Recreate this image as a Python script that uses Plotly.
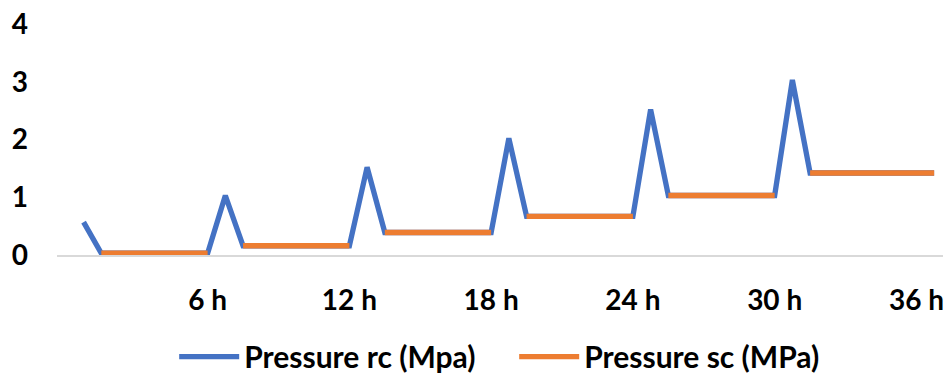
import plotly.graph_objects as go

# category positions (0 = blank leading category)
x_idx = list(range(50))
tick_pos = [8, 16, 24, 32, 40, 48]
tick_labels = ["6 h", "12 h", "18 h", "24 h", "30 h", "36 h"]

pressure_rc = [None, 0.57,
               0.03, 0.03, 0.03, 0.03, 0.03, 0.03, 0.03,
               1.03,
               0.16, 0.16, 0.16, 0.16, 0.16, 0.16, 0.16,
               1.52,
               0.39, 0.39, 0.39, 0.39, 0.39, 0.39, 0.39,
               2.02,
               0.67, 0.67, 0.67, 0.67, 0.67, 0.67, 0.67,
               2.52,
               1.03, 1.03, 1.03, 1.03, 1.03, 1.03, 1.03,
               3.03,
               1.42, 1.42, 1.42, 1.42, 1.42, 1.42, 1.42, 1.42]

pressure_sc = [None, None,
               0.03, 0.03, 0.03, 0.03, 0.03, 0.03, 0.03,
               None,
               0.16, 0.16, 0.16, 0.16, 0.16, 0.16, 0.16,
               None,
               0.39, 0.39, 0.39, 0.39, 0.39, 0.39, 0.39,
               None,
               0.67, 0.67, 0.67, 0.67, 0.67, 0.67, 0.67,
               None,
               1.03, 1.03, 1.03, 1.03, 1.03, 1.03, 1.03,
               None,
               1.42, 1.42, 1.42, 1.42, 1.42, 1.42, 1.42, 1.42]

FONT = "Lato"

fig = go.Figure()
fig.add_trace(go.Scatter(x=x_idx, y=pressure_rc, mode="lines",
                         name="Pressure rc (Mpa)",
                         line=dict(color="#4472C4", width=5.3),
                         connectgaps=False))
fig.add_trace(go.Scatter(x=x_idx, y=pressure_sc, mode="lines",
                         name="Pressure sc (MPa)",
                         line=dict(color="#ED7D31", width=5.3),
                         connectgaps=False))

fig.update_layout(
    width=948, height=373,
    margin=dict(l=57, r=5, t=23.5, b=117.5, autoexpand=False),
    paper_bgcolor="white", plot_bgcolor="white",
    font=dict(family=FONT, size=28, color="#000000", weight="bold"),
    showlegend=True,
    legend=dict(orientation="h", x=0.516, xanchor="center",
                y=-0.44, yanchor="middle",
                font=dict(family=FONT, size=30, color="#000000", weight="bold"),
                itemwidth=60, entrywidth=265, entrywidthmode="pixels",
                tracegroupgap=0, bgcolor="rgba(0,0,0,0)"),
)
fig.update_xaxes(range=[-0.5, 49.5], tickmode="array", tickvals=tick_pos,
                 ticktext=tick_labels, showgrid=False, zeroline=False,
                 showline=True, linecolor="#D9D9D9", linewidth=2,
                 ticks="", ticklabelstandoff=19,
                 tickfont=dict(family=FONT, size=28, color="#000000", weight="bold"))
fig.update_yaxes(range=[0, 4], tickmode="array", tickvals=[0, 1, 2, 3, 4],
                 showgrid=False, zeroline=False, showline=False, ticks="",
                 ticklabelstandoff=28,
                 tickfont=dict(family=FONT, size=28, color="#000000", weight="bold"))

fig.write_html("out.html")
